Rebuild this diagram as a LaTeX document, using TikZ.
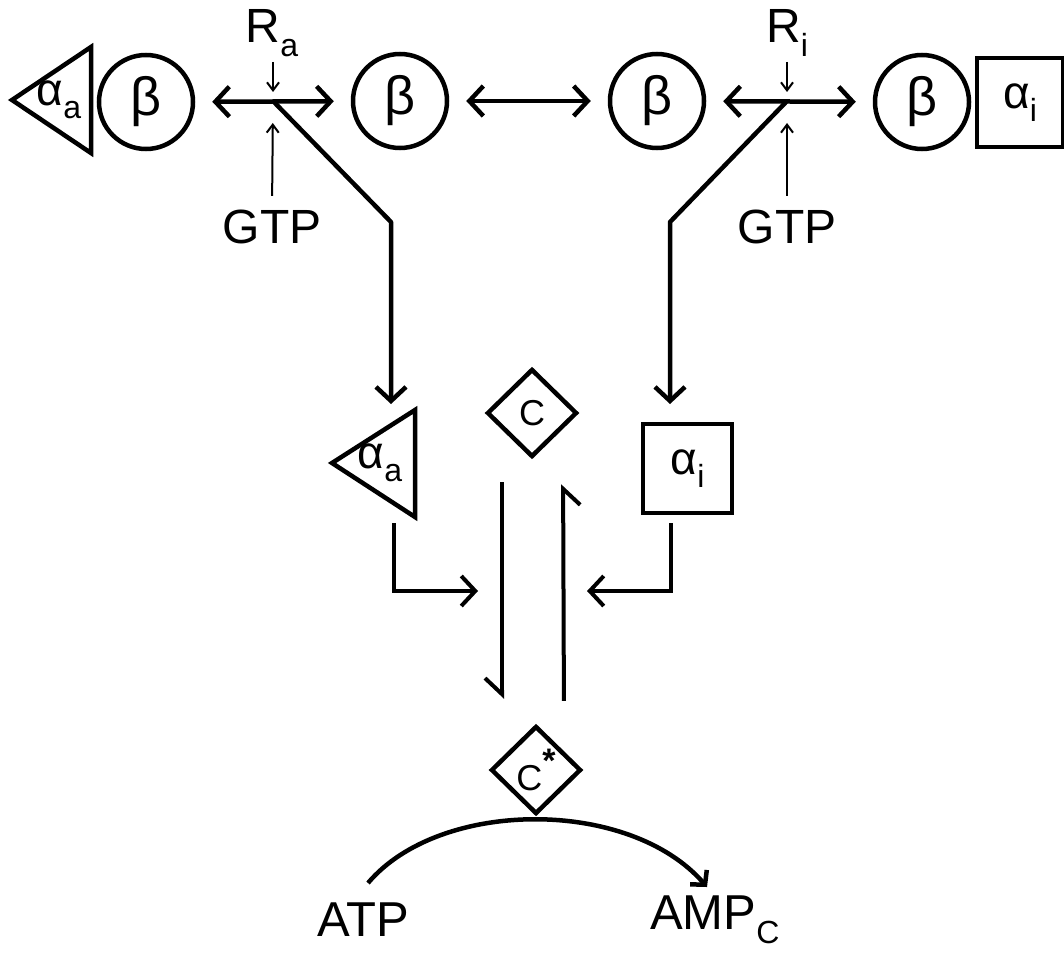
\documentclass[tikz,border=0pt]{standalone}
\usepackage{fontspec}
\setmainfont{Liberation Sans}
\usetikzlibrary{arrows.meta,shapes.geometric}
\newcommand\lsub[1]{\raisebox{-0.28em}{\fontsize{32}{32}\selectfont #1}}
\newcommand\lsup[1]{\raisebox{0.5em}{\fontsize{34}{34}\selectfont\bfseries #1}}
\begin{document}
\begin{tikzpicture}[x=1pt,y=-1pt,
  lbl/.style={font=\fontsize{48}{50}\selectfont, inner sep=0pt},
  shp/.style={draw, line width=4.5pt},
  bcirc/.style={shp, circle, minimum size=94pt, inner sep=0pt, font=\fontsize{54}{56}\selectfont},
  dia/.style={shp, diamond, minimum width=90pt, minimum height=88pt, inner sep=0pt, font=\fontsize{36}{40}\selectfont},
  box/.style={shp, rectangle, minimum width=86pt, minimum height=89pt, inner sep=0pt, font=\fontsize{46}{48}\selectfont},
  tritext/.style={inner sep=0pt, font=\fontsize{46}{48}\selectfont},
  dbl/.style={line width=4.5pt, {Straight Barb[length=14pt,width=30pt]}-{Straight Barb[length=14pt,width=30pt]}, shorten <=17pt, shorten >=17pt},
  big/.style={line width=4.5pt, -{Straight Barb[length=14pt,width=30pt]}},
  small/.style={line width=2pt, -{Straight Barb[length=8pt,width=12pt]}},
  harp/.style={line width=4pt, -{Straight Barb[right,length=16pt,width=34pt]}},
]
\useasboundingbox (0,0) rectangle (1064,952);

% top row
\draw[shp, line join=miter] (12,100) -- (91,47) -- (91,153) -- cycle;
\node[tritext] (ta1) at (59,100) {α\lsub{a}};
\node[bcirc] (b1) at (146,102) {β};
\node[bcirc] (b2) at (400,101) {β};
\node[bcirc] (b3) at (657,101) {β};
\node[bcirc] (b4) at (922,102) {β};
\node[box, minimum width=86pt, minimum height=89pt] (ai1) at (1020,102.5) {α\lsub{i}};

\draw[dbl] (b1) -- (b2);
\draw[dbl] (b2) -- (b3);
\draw[dbl] (b3) -- (b4);

\coordinate (xa) at (273,101);
\coordinate (xi) at (787,101);

\node[lbl] (Ra) at (272,33) {R\lsub{a}};
\node[lbl] (Ri) at (787,33) {R\lsub{i}};
\node[lbl] (gtpa) at (272,227) {GTP};
\node[lbl] (gtpi) at (787,227) {GTP};

\coordinate (ra0) at (273,62);
\coordinate (ri0) at (787,62);
\draw[small, shorten >=9pt] (ra0) -- (xa);
\draw[small, shorten >=9pt] (ri0) -- (xi);
\draw[small, shorten <=14pt, shorten >=22pt] (gtpa.north) -- (xa);
\draw[small, shorten <=14pt, shorten >=22pt] (gtpi.north) -- (xi);

% middle
\coordinate (bendL) at (391,222);
\coordinate (bendR) at (670,222);
\coordinate (tipL) at (391,404);
\coordinate (tipR) at (670,404);
\node[dia] (C) at (532,413) {C};

\draw[shp, line join=miter] (332,463) -- (415,410) -- (415,517) -- cycle;
\node[tritext] (ta2) at (380,463) {α\lsub{a}};
\node[box, minimum width=89pt, minimum height=89pt] (ai2) at (687.5,468.5) {α\lsub{i}};

\draw[big, line join=round] (xa) -- (bendL) -- (tipL);
\draw[big, line join=round] (xi) -- (bendR) -- (tipR);

\coordinate (ta2b) at (394,523);
\coordinate (ai2b) at (671,523);
\coordinate (inL) at (478,591);
\coordinate (inR) at (587,591);
\draw[big, line width=4pt] (ta2b) |- (inL);
\draw[big, line width=4pt] (ai2b) |- (inR);

\node[dia] (Cs) at (536,770) {C\lsup{*}};

\draw[harp, shorten <=23pt, shorten >=25pt] ([xshift=-30pt]C.south) -- ([xshift=-34pt]Cs.north);
\draw[harp, shorten <=23pt, shorten >=25pt] ([xshift=28pt]Cs.north) -- ([xshift=31pt]C.south);

% bottom
\node[lbl, font=\fontsize{49}{52}\selectfont] (atp) at (363,920) {ATP};
\node[lbl, font=\fontsize{49}{52}\selectfont, anchor=west] (amp) at (650,920) {AMP\lsub{C}};

\coordinate (arcS) at (368,883);
\coordinate (arcE) at (707,887);
\draw[line width=4.5pt, -{Straight Barb[length=10pt,width=22pt]}] (arcS) .. controls (440,798) and (630,798) .. (arcE);

\end{tikzpicture}
\end{document}
